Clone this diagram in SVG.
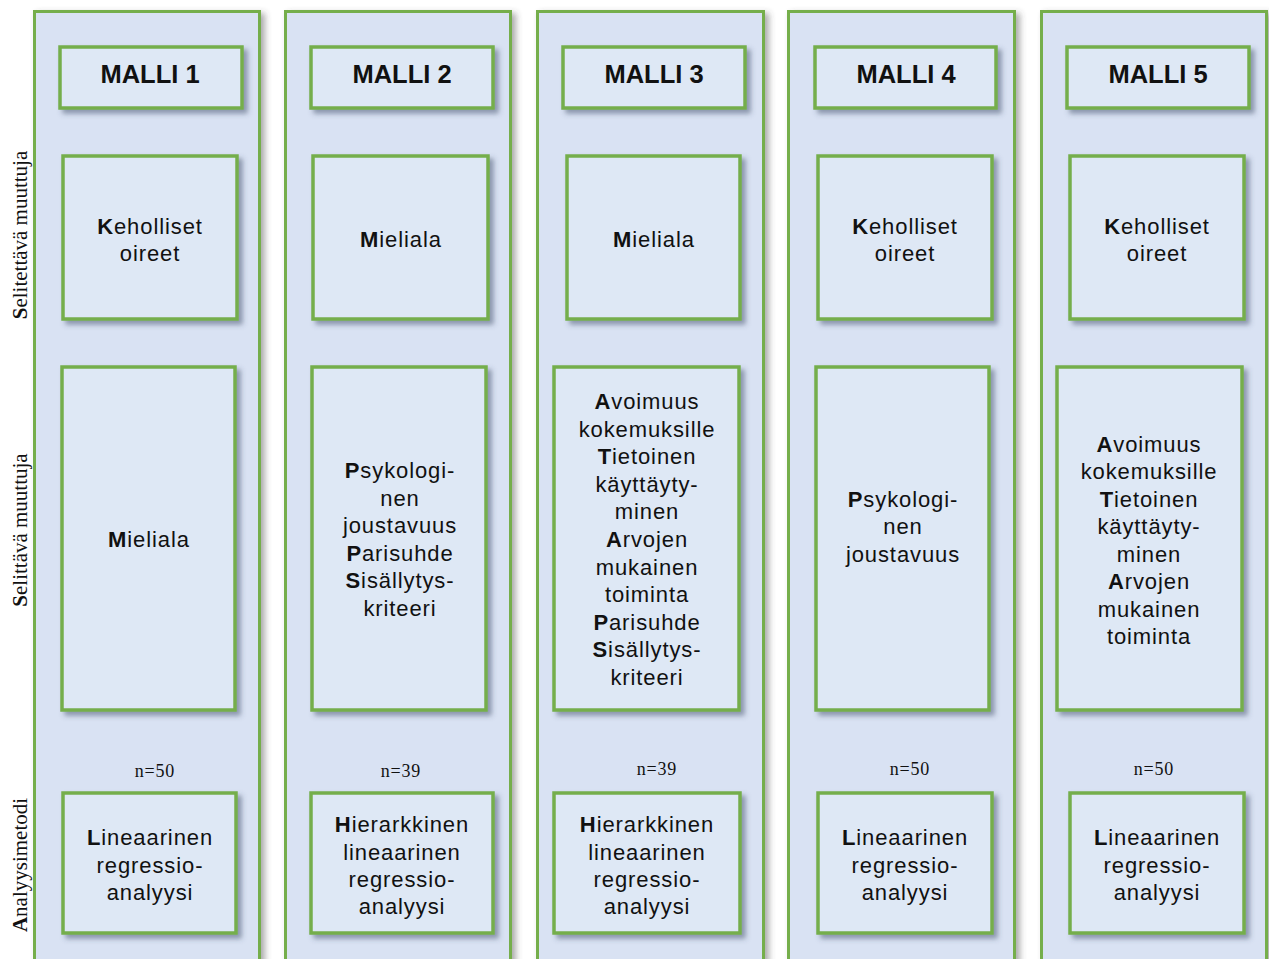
<svg xmlns="http://www.w3.org/2000/svg" width="1269" height="959" viewBox="0 0 1269 959">
<defs>
<filter id="sh" x="-10%" y="-10%" width="130%" height="130%">
<feDropShadow dx="4" dy="4" stdDeviation="2.5" flood-color="#3c4a66" flood-opacity="0.5"/>
</filter>
<filter id="shc" x="-10%" y="-5%" width="130%" height="120%">
<feDropShadow dx="4" dy="3" stdDeviation="3" flood-color="#444" flood-opacity="0.45"/>
</filter>
<style>
.col{fill:#D9E2F3;stroke:#74AE4C;stroke-width:3;filter:url(#shc)}
.box{fill:#DEE8F5;stroke:#74AE4C;stroke-width:3.5;filter:url(#sh)}
.t{font-family:"Liberation Sans",Arial,sans-serif;font-size:22px;letter-spacing:0.9px;text-anchor:middle;fill:#111}
.h{font-family:"Liberation Sans",Arial,sans-serif;font-size:25.5px;font-weight:bold;text-anchor:middle;fill:#111}
.n{font-family:"Liberation Serif","Times New Roman",serif;font-size:18px;letter-spacing:0.8px;text-anchor:middle;fill:#111}
.s{font-family:"Liberation Serif","Times New Roman",serif;font-size:21px;text-anchor:middle;fill:#111}
.b{font-weight:bold}
</style>
</defs>
<rect width="1269" height="959" fill="#ffffff"/>

<g id="side-labels">
<text class="s" transform="translate(27,235) rotate(-90)"><tspan class="b">S</tspan>elitettävä muuttuja</text>
<text class="s" transform="translate(27,530) rotate(-90)"><tspan class="b">S</tspan>elittävä muuttuja</text>
<text class="s" transform="translate(27,865) rotate(-90)"><tspan class="b">A</tspan>nalyysimetodi</text>
</g>

<g id="columns">
<rect id="col1" class="col" x="34.5" y="11.5" width="225" height="960"/>
<rect id="col2" class="col" x="285.5" y="11.5" width="225" height="960"/>
<rect id="col3" class="col" x="537.5" y="11.5" width="226" height="960"/>
<rect id="col4" class="col" x="788.5" y="11.5" width="226" height="960"/>
<rect id="col5" class="col" x="1041.5" y="11.5" width="225" height="960"/>
</g>

<g id="connectors"></g>

<!-- Column 1 -->
<g id="malli1">
<rect class="box" x="60" y="47" width="182" height="61"/>
<text class="h" x="150" y="83">MALLI 1</text>
</g>
<g id="dep1">
<rect class="box" x="63" y="156" width="174" height="163"/>
<text class="t" x="150" y="234"><tspan class="b">K</tspan>eholliset</text>
<text class="t" x="150" y="261">oireet</text>
</g>
<g id="ind1">
<rect class="box" x="62" y="367" width="173" height="343"/>
<text class="t" x="149" y="547"><tspan class="b">M</tspan>ieliala</text>
</g>
<g id="n1"><text class="n" x="155" y="777">n=50</text></g>
<g id="met1">
<rect class="box" x="63" y="793" width="173" height="140"/>
<text class="t" x="150" y="845"><tspan class="b">L</tspan>ineaarinen</text>
<text class="t" x="150" y="873">regressio-</text>
<text class="t" x="150" y="900">analyysi</text>
</g>

<!-- Column 2 -->
<g id="malli2">
<rect class="box" x="311" y="47" width="182" height="61"/>
<text class="h" x="402" y="83">MALLI 2</text>
</g>
<g id="dep2">
<rect class="box" x="313" y="156" width="175" height="163"/>
<text class="t" x="401" y="247"><tspan class="b">M</tspan>ieliala</text>
</g>
<g id="ind2">
<rect class="box" x="312" y="367" width="174" height="343"/>
<text class="t" x="400" y="478"><tspan class="b">P</tspan>sykologi-</text>
<text class="t" x="400" y="506">nen</text>
<text class="t" x="400" y="533">joustavuus</text>
<text class="t" x="400" y="561"><tspan class="b">P</tspan>arisuhde</text>
<text class="t" x="400" y="588"><tspan class="b">S</tspan>isällytys-</text>
<text class="t" x="400" y="616">kriteeri</text>
</g>
<g id="n2"><text class="n" x="401" y="777">n=39</text></g>
<g id="met2">
<rect class="box" x="311" y="793" width="182" height="140"/>
<text class="t" x="402" y="832"><tspan class="b">H</tspan>ierarkkinen</text>
<text class="t" x="402" y="860">lineaarinen</text>
<text class="t" x="402" y="887">regressio-</text>
<text class="t" x="402" y="914">analyysi</text>
</g>

<!-- Column 3 -->
<g id="malli3">
<rect class="box" x="563" y="47" width="182" height="61"/>
<text class="h" x="654" y="83">MALLI 3</text>
</g>
<g id="dep3">
<rect class="box" x="567" y="156" width="173" height="163"/>
<text class="t" x="654" y="247"><tspan class="b">M</tspan>ieliala</text>
</g>
<g id="ind3">
<rect class="box" x="554" y="367" width="185" height="343"/>
<text class="t" x="647" y="409"><tspan class="b">A</tspan>voimuus</text>
<text class="t" x="647" y="437">kokemuksille</text>
<text class="t" x="647" y="464"><tspan class="b">T</tspan>ietoinen</text>
<text class="t" x="647" y="492">käyttäyty-</text>
<text class="t" x="647" y="519">minen</text>
<text class="t" x="647" y="547"><tspan class="b">A</tspan>rvojen</text>
<text class="t" x="647" y="575">mukainen</text>
<text class="t" x="647" y="602">toiminta</text>
<text class="t" x="647" y="630"><tspan class="b">P</tspan>arisuhde</text>
<text class="t" x="647" y="657"><tspan class="b">S</tspan>isällytys-</text>
<text class="t" x="647" y="685">kriteeri</text>
</g>
<g id="n3"><text class="n" x="657" y="775">n=39</text></g>
<g id="met3">
<rect class="box" x="554" y="793" width="186" height="140"/>
<text class="t" x="647" y="832"><tspan class="b">H</tspan>ierarkkinen</text>
<text class="t" x="647" y="860">lineaarinen</text>
<text class="t" x="647" y="887">regressio-</text>
<text class="t" x="647" y="914">analyysi</text>
</g>

<!-- Column 4 -->
<g id="malli4">
<rect class="box" x="815" y="47" width="181" height="61"/>
<text class="h" x="906" y="83">MALLI 4</text>
</g>
<g id="dep4">
<rect class="box" x="818" y="156" width="174" height="163"/>
<text class="t" x="905" y="234"><tspan class="b">K</tspan>eholliset</text>
<text class="t" x="905" y="261">oireet</text>
</g>
<g id="ind4">
<rect class="box" x="816" y="367" width="173" height="343"/>
<text class="t" x="903" y="507"><tspan class="b">P</tspan>sykologi-</text>
<text class="t" x="903" y="534">nen</text>
<text class="t" x="903" y="562">joustavuus</text>
</g>
<g id="n4"><text class="n" x="910" y="775">n=50</text></g>
<g id="met4">
<rect class="box" x="818" y="793" width="174" height="140"/>
<text class="t" x="905" y="845"><tspan class="b">L</tspan>ineaarinen</text>
<text class="t" x="905" y="873">regressio-</text>
<text class="t" x="905" y="900">analyysi</text>
</g>

<!-- Column 5 -->
<g id="malli5">
<rect class="box" x="1067" y="47" width="182" height="61"/>
<text class="h" x="1158" y="83">MALLI 5</text>
</g>
<g id="dep5">
<rect class="box" x="1070" y="156" width="174" height="163"/>
<text class="t" x="1157" y="234"><tspan class="b">K</tspan>eholliset</text>
<text class="t" x="1157" y="261">oireet</text>
</g>
<g id="ind5">
<rect class="box" x="1057" y="367" width="185" height="343"/>
<text class="t" x="1149" y="452"><tspan class="b">A</tspan>voimuus</text>
<text class="t" x="1149" y="479">kokemuksille</text>
<text class="t" x="1149" y="507"><tspan class="b">T</tspan>ietoinen</text>
<text class="t" x="1149" y="534">käyttäyty-</text>
<text class="t" x="1149" y="562">minen</text>
<text class="t" x="1149" y="589"><tspan class="b">A</tspan>rvojen</text>
<text class="t" x="1149" y="617">mukainen</text>
<text class="t" x="1149" y="644">toiminta</text>
</g>
<g id="n5"><text class="n" x="1154" y="775">n=50</text></g>
<g id="met5">
<rect class="box" x="1070" y="793" width="174" height="140"/>
<text class="t" x="1157" y="845"><tspan class="b">L</tspan>ineaarinen</text>
<text class="t" x="1157" y="873">regressio-</text>
<text class="t" x="1157" y="900">analyysi</text>
</g>
</svg>
